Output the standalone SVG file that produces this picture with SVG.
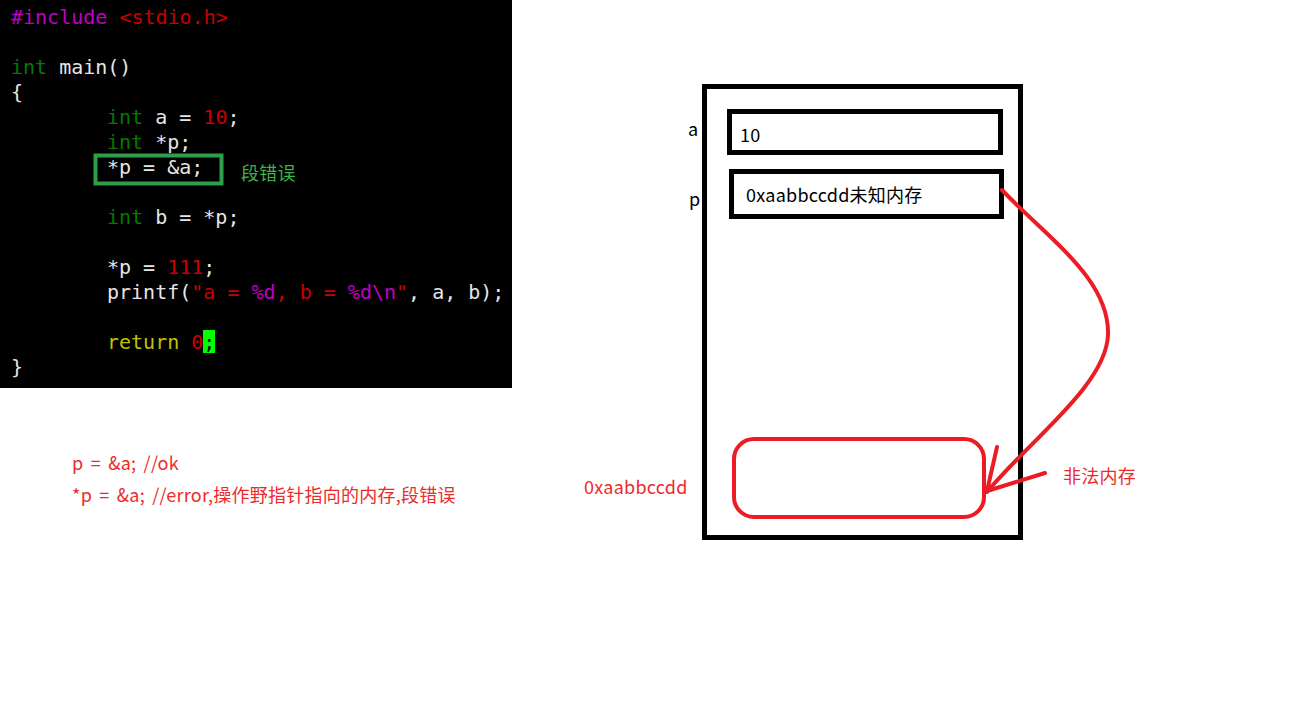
<svg xmlns="http://www.w3.org/2000/svg" width="1297" height="709" viewBox="0 0 1297 709">
<style>
.code{font-family:"DejaVu Sans Mono","Liberation Mono",monospace;font-size:20px;fill:#e6e6e6;white-space:pre}
.kw{fill:#007a00}
.pp{fill:#c000c0}
.rd{fill:#c80000}
.yl{fill:#c0c000}
.note{font-family:"Noto Sans CJK SC","Liberation Sans",sans-serif;font-size:18px;letter-spacing:0.25px;word-spacing:3px}
.red{fill:#ee2a2a}
.blk{fill:#000}
.box{fill:none;stroke:#000;stroke-width:5}
.rline{fill:none;stroke:#ed1c24;stroke-width:4;stroke-linecap:round;stroke-linejoin:round}
</style>
<rect width="1297" height="709" fill="#fff"/>
<g id="code">
<rect x="0" y="0" width="512" height="388" fill="#000"/>
<rect x="203" y="330" width="12" height="23" fill="#00ff00"/>
<text class="code" x="11" y="24"><tspan class="pp">#include</tspan> <tspan class="rd">&lt;stdio.h&gt;</tspan></text>
<text class="code" x="11" y="74"><tspan class="kw">int</tspan> main()</text>
<text class="code" x="11" y="99">{</text>
<text class="code" x="107" y="124"><tspan class="kw">int</tspan> a = <tspan class="rd">10</tspan>;</text>
<text class="code" x="107" y="149"><tspan class="kw">int</tspan> *p;</text>
<text class="code" x="107" y="174">*p = &amp;a;</text>
<text class="code" x="107" y="224"><tspan class="kw">int</tspan> b = *p;</text>
<text class="code" x="107" y="274">*p = <tspan class="rd">111</tspan>;</text>
<text class="code" x="107" y="299">printf(<tspan class="rd">"a = </tspan><tspan class="pp">%d</tspan><tspan class="rd">, b = </tspan><tspan class="pp">%d\n</tspan><tspan class="rd">"</tspan>, a, b);</text>
<text class="code" x="107" y="349"><tspan class="yl">return</tspan> <tspan class="rd">0</tspan><tspan fill="#000">;</tspan></text>
<text class="code" x="11" y="374">}</text>
<rect x="95.500" y="155.500" width="126" height="28" fill="none" stroke="#2e9e4a" stroke-width="4"/>
<text class="note" x="241" y="180" fill="#3cb44b">段错误</text>
</g>
<g id="notes">
<text class="note red" x="72" y="470">p = &amp;a; //ok</text>
<text class="note red" x="72" y="502">*p = &amp;a; //error,操作野指针指向的内存,段错误</text>
</g>
<g id="memory">
<rect class="box" x="704.500" y="86.500" width="316" height="451"/>
</g>
<g id="var-a">
<rect class="box" x="729.500" y="111.500" width="271" height="41"/>
<text class="note blk" x="740" y="142">10</text>
<text class="note blk" x="688" y="136">a</text>
</g>
<g id="var-p">
<rect class="box" x="731.500" y="171.500" width="270" height="45"/>
<text class="note blk" x="746" y="202">0xaabbccdd未知内存</text>
<text class="note blk" x="689" y="206">p</text>
</g>
<g id="illegal">
<rect x="734" y="439" width="250" height="78" rx="20" fill="none" stroke="#ed1c24" stroke-width="4"/>
<text class="note red" x="584" y="494">0xaabbccdd</text>
<text class="note red" x="1063" y="483">非法内存</text>
</g>
<g id="connectors">
<path class="rline" d="M1002,190 C1050,240 1110,280 1108,335 C1106,385 1030,440 987,492"/>
<path class="rline" d="M997,447 L987,491 L1045,473"/>
</g>
</svg>
